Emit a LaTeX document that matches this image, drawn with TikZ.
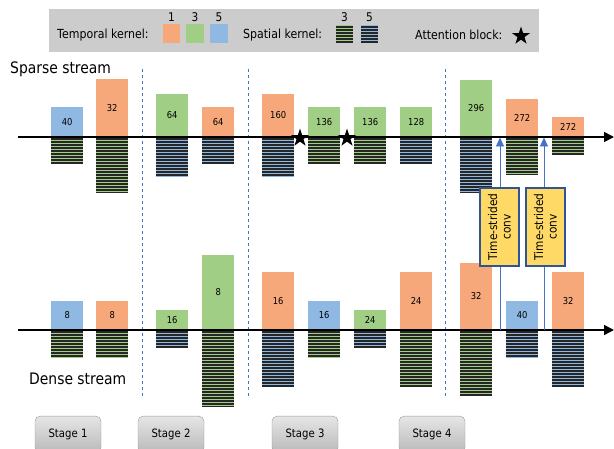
\documentclass[tikz,border=0pt]{standalone}
\usepackage{fontspec}
\setmainfont{DejaVu Sans}[FakeStretch=0.88]
\usetikzlibrary{shapes.geometric,arrows.meta}
\definecolor{cOr}{RGB}{246,168,122}
\definecolor{cGr}{RGB}{160,206,132}
\definecolor{cBl}{RGB}{143,185,226}
\definecolor{cLeg}{RGB}{204,204,204}
\definecolor{cDash}{RGB}{68,114,196}
\definecolor{cYel}{RGB}{255,217,102}
\definecolor{cBord}{RGB}{47,85,151}
\newcommand\stripes[5]{%
  \begin{scope}
    \clip (#1,#3) rectangle (#2,#4);
    \fill[#5] (#1,#3) rectangle (#2,#4);
    \foreach \k in {0,...,30}{\draw[line width=1.4pt,black!85] ({#1},{#3+2.2+3*\k}) -- ({#2},{#3+2.2+3*\k});}
  \end{scope}}
\tikzset{
  tbox/.style={inner sep=0pt, anchor=south west, minimum width=32pt, font=\fontsize{9.5}{11}\selectfont},
  legtext/.style={anchor=west, font=\fontsize{12.5}{15}\selectfont, inner sep=0pt},
  digit/.style={font=\fontsize{12}{14}\selectfont, inner sep=0pt},
  streamtext/.style={anchor=west, font=\fontsize{15.8}{18}\selectfont, inner sep=0pt},
  starnode/.style={star, star points=5, star point ratio=2.6, fill=black, inner sep=0pt, minimum size=19pt},
  axisline/.style={line width=1.5pt, -{Triangle[length=10pt,width=10pt]}},
  upar/.style={cDash, line width=0.9pt, -{Triangle[length=9pt,width=8pt]}},
  dline/.style={cDash, line width=0.9pt, dash pattern=on 3pt off 3pt},
  tsconv/.style={draw=cBord, fill=cYel, line width=1.2pt, rotate=90, minimum width=78pt, minimum height=39pt, inner sep=0pt, align=center, font=\fontsize{12}{13.5}\selectfont},
  stagebox/.style={draw=black!40, top color=black!10, bottom color=black!27, rounded corners=5pt, minimum width=66pt, minimum height=36pt, inner sep=0pt, font=\fontsize{11.5}{14}\selectfont}
}
\begin{document}
\begin{tikzpicture}[x=1pt,y=-1pt]
\useasboundingbox (0,0) rectangle (614,449);
% legend
\fill[cLeg] (49,9) rectangle (539,52);
\node[legtext] (lt) at (57,35) {Temporal kernel:};
\fill[cOr] (163,24) rectangle (180,43);
\fill[cGr] (186,24) rectangle (204,43);
\fill[cBl] (210,24) rectangle (228,43);
\node[digit] (d1) at (171.5,17) {1};
\node[digit] (d3) at (195,17) {3};
\node[digit] (d5) at (219,17) {5};
\node[legtext] (ls) at (243,35) {Spatial kernel:};
\stripes{336}{353}{25}{43}{cGr}
\stripes{361}{378}{25}{43}{cBl}
\node[digit] (e3) at (344.5,17) {3};
\node[digit] (e5) at (369.5,17) {5};
\node[legtext] (la) at (415,35) {Attention block:};
\node[starnode] (lstar) at (521,36) {};
% stream titles
\node[streamtext] (sparse) at (10,69) {Sparse stream};
\node[streamtext] (dense) at (29,379) {Dense stream};
% dashed separators
\draw[dline] (142,69) -- (142,397);
\draw[dline] (248,69) -- (248,397);
\draw[dline] (445,69) -- (445,397);
% sparse stream bars
\node[tbox, fill=cBl, minimum height=30pt] (s1) at (51,137) {40};
\stripes{51}{83}{137}{164}{cGr}
\node[tbox, fill=cOr, minimum height=58pt] (s2) at (96,137) {32};
\stripes{96}{128}{137}{193}{cGr}
\node[tbox, fill=cGr, minimum height=43pt] (s3) at (156,137) {64};
\stripes{156}{188}{137}{177}{cBl}
\node[tbox, fill=cOr, minimum height=30pt] (s4) at (202,137) {64};
\stripes{202}{234}{137}{164}{cBl}
\node[tbox, fill=cOr, minimum height=43pt] (s5) at (262,137) {160};
\stripes{262}{294}{137}{177}{cBl}
\node[tbox, fill=cGr, minimum height=30pt] (s6) at (308,137) {136};
\stripes{308}{340}{137}{164}{cGr}
\node[tbox, fill=cGr, minimum height=30pt] (s7) at (354,137) {136};
\stripes{354}{386}{137}{164}{cGr}
\node[tbox, fill=cGr, minimum height=30pt] (s8) at (400,137) {128};
\stripes{400}{432}{137}{164}{cBl}
\node[tbox, fill=cGr, minimum height=57pt] (s9) at (460,137) {296};
\stripes{460}{492}{137}{193}{cBl}
\node[tbox, fill=cOr, minimum height=38pt] (s10) at (506,137) {272};
\stripes{506}{538}{137}{175}{cGr}
\node[tbox, fill=cOr, minimum height=20pt] (s11) at (552,137) {272};
\stripes{552}{584}{137}{155}{cGr}
% dense stream bars
\node[tbox, fill=cBl, minimum height=29pt] (d1b) at (51,330) {8};
\stripes{51}{83}{330}{358}{cGr}
\node[tbox, fill=cOr, minimum height=29pt] (d2b) at (96,330) {8};
\stripes{96}{128}{330}{358}{cGr}
\node[tbox, fill=cGr, minimum height=20pt] (d3b) at (156,330) {16};
\stripes{156}{188}{330}{348}{cBl}
\node[tbox, fill=cGr, minimum height=75pt] (d4b) at (202,330) {8};
\stripes{202}{234}{330}{407}{cGr}
\node[tbox, fill=cOr, minimum height=58pt] (d5b) at (262,330) {16};
\stripes{262}{294}{330}{387}{cBl}
\node[tbox, fill=cBl, minimum height=29pt] (d6b) at (308,330) {16};
\stripes{308}{340}{330}{358}{cGr}
\node[tbox, fill=cGr, minimum height=20pt] (d7b) at (354,330) {24};
\stripes{354}{386}{330}{348}{cBl}
\node[tbox, fill=cOr, minimum height=58pt] (d8b) at (400,330) {24};
\stripes{400}{432}{330}{387}{cGr}
\node[tbox, fill=cOr, minimum height=67pt] (d9b) at (460,330) {32};
\stripes{460}{492}{330}{396}{cGr}
\node[tbox, fill=cBl, minimum height=29pt] (d10b) at (506,330) {40};
\stripes{506}{538}{330}{358}{cBl}
\node[tbox, fill=cOr, minimum height=58pt] (d11b) at (552,330) {32};
\stripes{552}{584}{330}{387}{cBl}
% axes
\coordinate (sA) at (18,137);
\coordinate (sB) at (614,137);
\coordinate (dA) at (18,330);
\coordinate (dB) at (614,330);
\draw[axisline] (sA) -- (sB);
\draw[axisline] (dA) -- (dB);
% attention stars
\node[starnode] (a1) at (300,138) {};
\node[starnode] (a2) at (347,138) {};
% time-strided connections
\coordinate (u1d) at (500,330);
\coordinate (u1s) at (500,137.5);
\coordinate (u2d) at (544,330);
\coordinate (u2s) at (544,137.5);
\draw[upar] (u1d) -- (u1s);
\draw[upar] (u2d) -- (u2s);
\node[tsconv] (tc1) at (499.5,227) {Time-strided\\conv};
\node[tsconv] (tc2) at (545.5,227) {Time-strided\\conv};
% stages
\node[stagebox, anchor=north] (g1) at (68,416) {Stage 1};
\node[stagebox, anchor=north] (g2) at (171,416) {Stage 2};
\node[stagebox, anchor=north] (g3) at (305,416) {Stage 3};
\node[stagebox, anchor=north] (g4) at (432,416) {Stage 4};
\end{tikzpicture}
\end{document}
